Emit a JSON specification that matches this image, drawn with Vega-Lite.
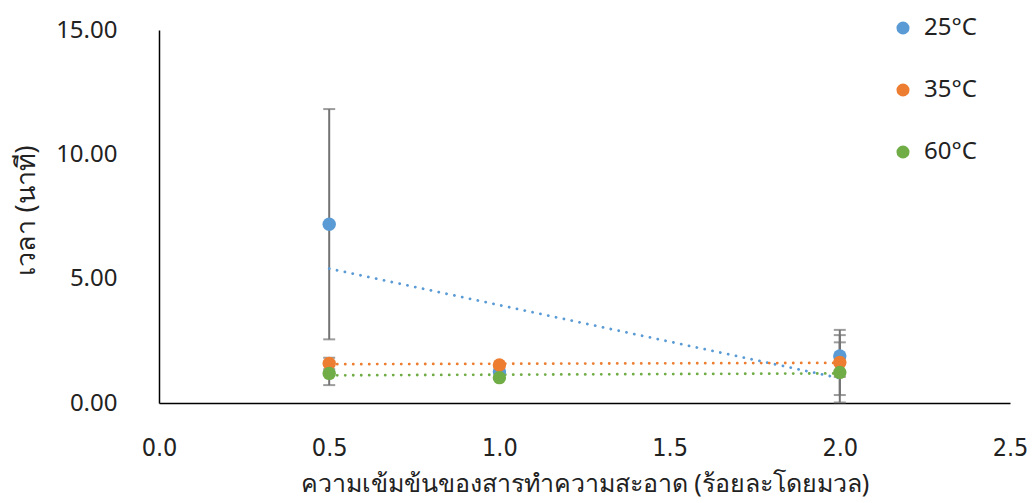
{
  "$schema": "https://vega.github.io/schema/vega-lite/v6.json",
  "autosize": {"type": "none"},
  "width": 851,
  "height": 373,
  "padding": {"left": 159, "top": 30, "right": 25, "bottom": 100},
  "background": "white",
  "config": {"view": {"stroke": null}, "font": "Noto Sans"},
  "data": {"values": [
    {"series": "25°C", "x": 0.5, "y": 7.19, "lo": 2.56, "hi": 11.82},
    {"series": "25°C", "x": 1.0, "y": 1.26, "lo": null, "hi": null},
    {"series": "25°C", "x": 2.0, "y": 1.89, "lo": 1.05, "hi": 2.73},
    {"series": "35°C", "x": 0.5, "y": 1.59, "lo": 1.36, "hi": 1.82},
    {"series": "35°C", "x": 1.0, "y": 1.53, "lo": null, "hi": null},
    {"series": "35°C", "x": 2.0, "y": 1.63, "lo": 0.32, "hi": 2.94},
    {"series": "60°C", "x": 0.5, "y": 1.19, "lo": 0.72, "hi": 1.66},
    {"series": "60°C", "x": 1.0, "y": 1.02, "lo": null, "hi": null},
    {"series": "60°C", "x": 2.0, "y": 1.23, "lo": 0.02, "hi": 2.44}
  ]},
  "encoding": {
    "x": {
      "field": "x", "type": "quantitative",
      "scale": {"domain": [0, 2.5], "nice": false},
      "axis": {
        "title": "ความเข้มข้นของสารทำความสะอาด (ร้อยละโดยมวล)",
        "values": [0, 0.5, 1, 1.5, 2, 2.5], "format": ".1f",
        "grid": false, "ticks": false, "tickSize": 0,
        "domainColor": "#000000", "domainWidth": 1.5,
        "labelFont": "DejaVu Sans Condensed", "labelFontSize": 25, "labelColor": "#222222",
        "labelPadding": 32, "labelFlush": false,
        "titleFontSize": 25, "titleFontWeight": "normal", "titleColor": "#222222",
        "titleY": 68, "titleBaseline": "top"
      }
    },
    "y": {
      "field": "y", "type": "quantitative",
      "scale": {"domain": [0, 15], "nice": false},
      "axis": {
        "title": "เวลา (นาที)",
        "values": [0, 5, 10, 15], "format": ".2f",
        "grid": false, "ticks": false, "tickSize": 0,
        "domainColor": "#000000", "domainWidth": 1.5,
        "labelFontSize": 24, "labelColor": "#222222", "labelPadding": 42,
        "titleFontSize": 27, "titleFontWeight": "normal", "titleColor": "#222222",
        "titleX": -119, "titleY": 180
      }
    }
  },
  "layer": [
    {
      "transform": [{"filter": "datum.lo != null"}],
      "mark": {"type": "rule", "color": "#737373", "strokeWidth": 2},
      "encoding": {"y": {"field": "lo", "type": "quantitative"}, "y2": {"field": "hi"}}
    },
    {
      "transform": [{"filter": "datum.lo != null"}],
      "mark": {"type": "tick", "orient": "horizontal", "color": "#737373", "size": 12, "thickness": 2},
      "encoding": {"y": {"field": "lo", "type": "quantitative"}}
    },
    {
      "transform": [{"filter": "datum.hi != null"}],
      "mark": {"type": "tick", "orient": "horizontal", "color": "#737373", "size": 12, "thickness": 2},
      "encoding": {"y": {"field": "hi", "type": "quantitative"}}
    },
    {
      "transform": [{"regression": "y", "on": "x", "groupby": ["series"]}],
      "mark": {"type": "line", "strokeWidth": 2.8, "strokeDash": [0.1, 7.9], "strokeCap": "round"},
      "encoding": {
        "color": {"field": "series", "type": "nominal",
          "scale": {"domain": ["25°C", "35°C", "60°C"], "range": ["#5B9BD5", "#ED7D31", "#70AD47"]}}
      }
    },
    {
      "mark": {"type": "circle", "size": 180, "opacity": 1},
      "encoding": {
        "color": {"field": "series", "type": "nominal",
          "scale": {"domain": ["25°C", "35°C", "60°C"], "range": ["#5B9BD5", "#ED7D31", "#70AD47"]},
          "legend": {
            "title": null, "orient": "none", "legendX": 732, "legendY": -14,
            "symbolType": "circle", "symbolSize": 170, "symbolStrokeWidth": 0, "symbolOpacity": 1,
            "labelFontSize": 24, "labelColor": "#222222", "labelOffset": 9,
            "rowPadding": 38
          }
        }
      }
    }
  ]
}
